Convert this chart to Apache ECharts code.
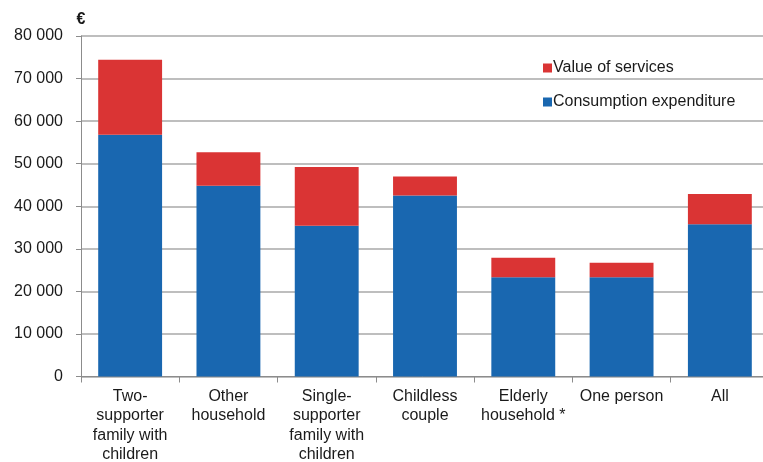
<!DOCTYPE html>
<html>
<head>
<meta charset="utf-8">
<script src="https://cdn.jsdelivr.net/npm/echarts@6/dist/echarts.min.js"></script>
<style>html,body{margin:0;padding:0;background:#fff}#c{width:763px;height:462px}</style>
</head>
<body>
<div id="c"></div>
<script>
const categories = ["Two-\nsupporter\nfamily with\nchildren", "Other\nhousehold", "Single-\nsupporter\nfamily with\nchildren", "Childless\ncouple", "Elderly\nhousehold *", "One person", "All"];
const consumption = [56800, 44800, 35400, 42500, 23300, 23300, 35800];
const services = [17600, 7900, 13800, 4500, 4600, 3400, 7100];
const yTicks = { min: 0, max: 80000, interval: 10000 };

const chart = echarts.init(document.getElementById('c'), null, { renderer: 'canvas' });
const font = 'Liberation Sans, Arial, sans-serif';
chart.setOption({
  animation: false,
  backgroundColor: '#fff',
  grid: { left: 81, top: 36, right: -6, bottom: 85.5, containLabel: false, outerBoundsMode: 'none' },
  legend: {
    orient: 'vertical', left: 538, top: 55,
    itemWidth: 9, itemHeight: 9, itemGap: 18,
    icon: 'rect',
    data: ['Value of services', 'Consumption expenditure'],
    textStyle: { fontFamily: font, fontSize: 16, color: '#1a1a1a', padding: [0, 0, 0, -4] }
  },
  xAxis: {
    type: 'category',
    data: categories,
    axisLine: { lineStyle: { color: '#8c8c8c', width: 1 } },
    axisTick: { show: true, length: 6, lineStyle: { color: '#8c8c8c' } },
    axisLabel: { fontFamily: font, fontSize: 16, color: '#1a1a1a', lineHeight: 19.5, margin: 10, interval: 0 }
  },
  yAxis: {
    type: 'value',
    min: yTicks.min, max: yTicks.max, interval: yTicks.interval,
    name: '€', nameLocation: 'end', nameGap: 8,
    nameTextStyle: { fontFamily: font, fontSize: 16, fontWeight: 'bold', color: '#1a1a1a', align: 'center' },
    axisLine: { show: true, lineStyle: { color: '#8c8c8c', width: 1 } },
    axisTick: { show: true, length: 5, lineStyle: { color: '#8c8c8c' } },
    splitLine: { lineStyle: { color: '#a8a8a8', width: 1.5 } },
    axisLabel: {
      fontFamily: font, fontSize: 16, color: '#1a1a1a', margin: 18,
      formatter: v => String(v).replace(/\B(?=(\d{3})+(?!\d))/g, ' ')
    }
  },
  series: [
    {
      name: 'Consumption expenditure', type: 'bar', stack: 'tot',
      data: consumption, barCategoryGap: '35%',
      itemStyle: { color: '#1967b0' }
    },
    {
      name: 'Value of services', type: 'bar', stack: 'tot',
      data: services, barCategoryGap: '35%',
      itemStyle: { color: '#da3434' }
    }
  ]
});
</script>
</body>
</html>
